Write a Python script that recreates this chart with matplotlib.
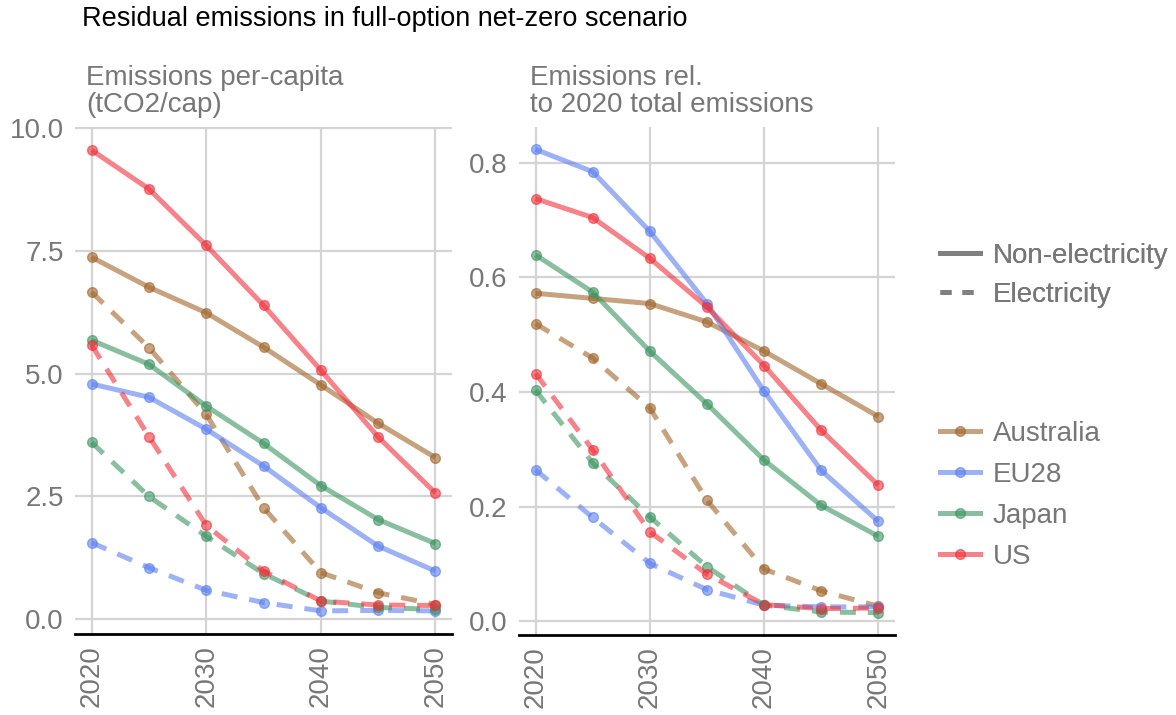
import matplotlib.pyplot as plt
from matplotlib.lines import Line2D

plt.rcParams['font.family'] = ['Liberation Sans', 'DejaVu Sans']

# ===== DATA =====
years = [2020, 2025, 2030, 2035, 2040, 2045, 2050]
countries = ['Australia', 'EU28', 'Japan', 'US']
colors = ['#A0642A', '#5A7FEF', '#3A9460', '#F0303A']

# per-capita emissions (tCO2/cap)
pc_nonelec = {
    'Australia': [7.37, 6.76, 6.24, 5.54, 4.77, 3.99, 3.29],
    'EU28':      [4.79, 4.52, 3.87, 3.12, 2.27, 1.49, 0.98],
    'Japan':     [5.68, 5.19, 4.34, 3.58, 2.72, 2.03, 1.54],
    'US':        [9.55, 8.76, 7.61, 6.39, 5.07, 3.71, 2.57],
}
pc_elec = {
    'Australia': [6.66, 5.53, 4.17, 2.27, 0.95, 0.54, 0.30],
    'EU28':      [1.56, 1.05, 0.59, 0.34, 0.17, 0.18, 0.17],
    'Japan':     [3.60, 2.50, 1.69, 0.93, 0.37, 0.24, 0.20],
    'US':        [5.58, 3.72, 1.91, 0.98, 0.37, 0.29, 0.28],
}

# relative to 2020 total emissions
rel_nonelec = {
    'Australia': [0.572, 0.563, 0.554, 0.522, 0.471, 0.414, 0.357],
    'EU28':      [0.823, 0.784, 0.680, 0.554, 0.401, 0.263, 0.174],
    'Japan':     [0.639, 0.574, 0.471, 0.379, 0.281, 0.202, 0.148],
    'US':        [0.737, 0.704, 0.633, 0.548, 0.446, 0.333, 0.237],
}
rel_elec = {
    'Australia': [0.519, 0.459, 0.372, 0.211, 0.091, 0.053, 0.026],
    'EU28':      [0.264, 0.181, 0.101, 0.055, 0.028, 0.025, 0.025],
    'Japan':     [0.403, 0.276, 0.182, 0.095, 0.028, 0.016, 0.015],
    'US':        [0.432, 0.299, 0.156, 0.082, 0.029, 0.022, 0.023],
}

panel_titles = ['Emissions per-capita\n(tCO2/cap)',
                'Emissions rel.\nto 2020 total emissions']
yticks_list = [[0.0, 2.5, 5.0, 7.5, 10.0], [0.0, 0.2, 0.4, 0.6, 0.8]]
ylims = [(-0.30, 10.02), (-0.024, 0.862)]

ALPHA = 0.6
GREY = '#777777'
GRID = '#d4d4d4'
FS = 20

# ===== FIGURE =====
fig = plt.figure(figsize=(11.76, 7.15), dpi=100)
ax1 = fig.add_axes([0.0638, 0.1133, 0.3206, 0.709])
ax2 = fig.add_axes([0.4413, 0.1119, 0.3197, 0.7105])


def draw_panel(ax, nonelec, elec, yticks, ylim, fmt):
    for name, col in zip(countries, colors):
        ax.plot(years, nonelec[name], color=col, lw=3.6, alpha=ALPHA,
                marker='o', ms=7, mec=col, solid_capstyle='butt', zorder=3)
        ax.plot(years, elec[name], color=col, lw=3.6, alpha=ALPHA,
                ls=(0, (3.2, 2.4)), marker='o', ms=7, mec=col, zorder=3)
    ax.set_xlim(2018.55, 2051.45)
    ax.set_ylim(*ylim)
    ax.set_xticks([2020, 2030, 2040, 2050])
    ax.set_xticklabels(['2020', '2030', '2040', '2050'], rotation=90)
    ax.set_yticks(yticks)
    ax.set_yticklabels([fmt.format(v) for v in yticks])
    ax.grid(True, color=GRID, lw=1.6)
    ax.set_axisbelow(True)
    for s in ['top', 'right', 'left']:
        ax.spines[s].set_visible(False)
    ax.spines['bottom'].set_color('black')
    ax.spines['bottom'].set_linewidth(2)
    ax.tick_params(length=0, labelsize=FS, labelcolor=GREY, pad=8)


draw_panel(ax1, pc_nonelec, pc_elec, yticks_list[0], ylims[0], '{:.1f}')
draw_panel(ax2, rel_nonelec, rel_elec, yticks_list[1], ylims[1], '{:.1f}')

# panel titles
fig.text(86 / 1176, 1 - 112 / 715, panel_titles[0], fontsize=FS, color=GREY,
         ha='left', va='baseline', linespacing=1.05)
fig.text(530 / 1176, 1 - 112 / 715, panel_titles[1], fontsize=FS, color=GREY,
         ha='left', va='baseline', linespacing=1.05)

# main title
fig.text(82 / 1176, 1 - 26 / 715,
         'Residual emissions in full-option net-zero scenario',
         fontsize=19.5, color='black', ha='left', va='baseline')

# ===== LEGENDS =====
type_handles = [
    Line2D([], [], color='#808080', lw=3.6),
    Line2D([], [], color='#808080', lw=3.6, ls=(0, (2.2, 2.2))),
]
leg1 = fig.legend(type_handles, ['Non-electricity', 'Electricity'],
                  loc='upper left', bbox_to_anchor=(940 / 1176, 1 - 243 / 715),
                  frameon=False, fontsize=FS, labelcolor=GREY,
                  handlelength=1.45, handletextpad=0.45, labelspacing=0.45,
                  borderpad=0, borderaxespad=0)

country_handles = [
    Line2D([], [], color=c, lw=3.6, alpha=ALPHA, marker='o', ms=7, mec=c)
    for c in colors
]
leg2 = fig.legend(country_handles, countries,
                  loc='upper left', bbox_to_anchor=(940 / 1176, 1 - 421 / 715),
                  frameon=False, fontsize=FS, labelcolor=GREY,
                  handlelength=1.45, handletextpad=0.45, labelspacing=0.54,
                  borderpad=0, borderaxespad=0)
fig.add_artist(leg1)

fig.savefig('out.png', dpi=100)
